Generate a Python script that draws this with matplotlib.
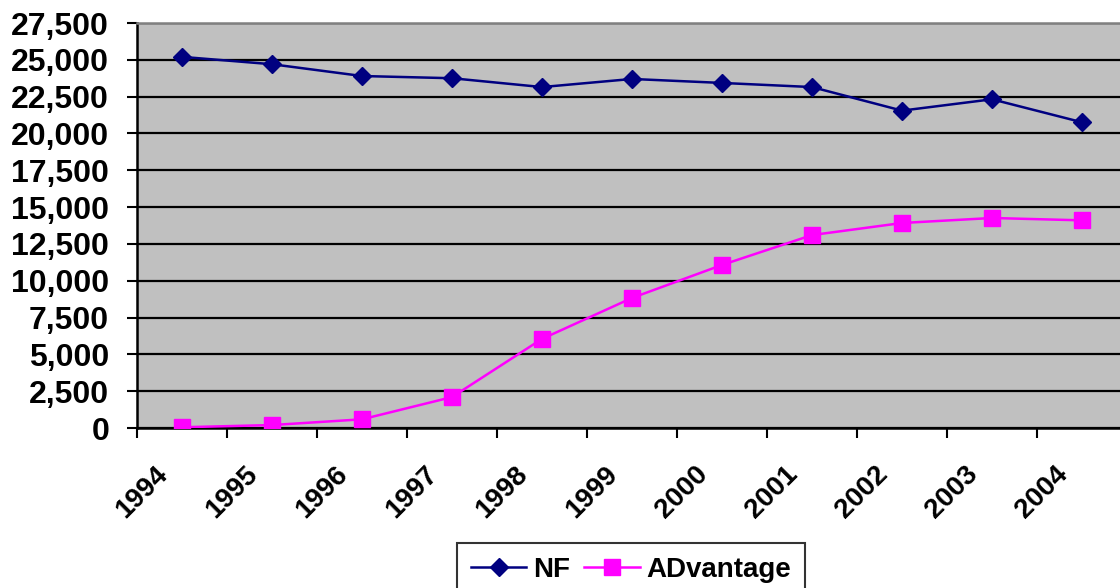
import numpy as np
import matplotlib
matplotlib.use('Agg')
import matplotlib.pyplot as plt
from matplotlib.ticker import FuncFormatter, FixedLocator

plt.rcParams['font.family'] = ['Liberation Sans', 'DejaVu Sans']
plt.rcParams['font.weight'] = 'bold'

# ---------- data ----------
years = ['1994', '1995', '1996', '1997', '1998', '1999',
         '2000', '2001', '2002', '2003', '2004']
nf = [25200, 24700, 23900, 23750, 23150, 23700, 23430, 23150, 21550, 22320, 20760]
advantage = [50, 200, 590, 2100, 6050, 8830, 11070, 13100, 13920, 14260, 14100]
y_ticks = np.arange(0, 27501, 2500)

# ---------- figure ----------
fig = plt.figure(figsize=(11.2, 5.88), dpi=100)
ax = fig.add_axes([137 / 1120, 160 / 588, 990 / 1120, 405 / 588])
ax.set_facecolor('#C0C0C0')

x = np.arange(len(years))
ax.plot(x, nf, color='#000080', linewidth=1.8, marker='D', markersize=9,
        markerfacecolor='#000080', markeredgecolor='#000080', label='NF', zorder=3)
ax.plot(x, advantage, color='#FF00FF', linewidth=1.8, marker='s', markersize=11,
        markerfacecolor='#FF00FF', markeredgecolor='#FF00FF', label='ADvantage', zorder=3)

ax.set_xlim(-0.5, len(years) - 0.5)
ax.set_ylim(0, 27500)

# y axis
ax.set_yticks(y_ticks)
ax.yaxis.set_major_formatter(FuncFormatter(lambda v, p: f'{int(v):,}'))
ax.tick_params(axis='y', direction='out', length=7, width=1.5, pad=13,
               labelsize=23, colors='black')
ax.set_axisbelow(True)
ax.yaxis.grid(True, color='black', linewidth=1.6)

# x axis: tick marks at category borders, labels near centers
ax.xaxis.set_minor_locator(FixedLocator(np.arange(-0.5, len(years), 1.0)))
ax.set_xticks(x - 0.1)
ax.set_xticklabels(years, rotation=45, ha='right', va='top')
ax.tick_params(axis='x', which='major', length=0, pad=24, labelsize=20)
ax.tick_params(axis='x', which='minor', direction='out', length=7, width=1.5)

for side in ['left', 'bottom']:
    ax.spines[side].set_color('black')
    ax.spines[side].set_linewidth(1.8)
ax.spines['top'].set_color('#808080')
ax.spines['top'].set_linewidth(1.8)
ax.spines['right'].set_color('#808080')

leg = ax.legend(loc='upper left', bbox_to_anchor=(457 / 1120, 1 - 543 / 588),
                bbox_transform=fig.transFigure, ncol=2, fontsize=20,
                frameon=True, fancybox=False, edgecolor='black',
                handlelength=2.0, handletextpad=0.25, columnspacing=0.5,
                borderpad=0.5, borderaxespad=0)
leg.get_frame().set_linewidth(1.5)
for t in leg.get_texts():
    t.set_fontweight('bold')

fig.savefig('out.png', dpi=100)
